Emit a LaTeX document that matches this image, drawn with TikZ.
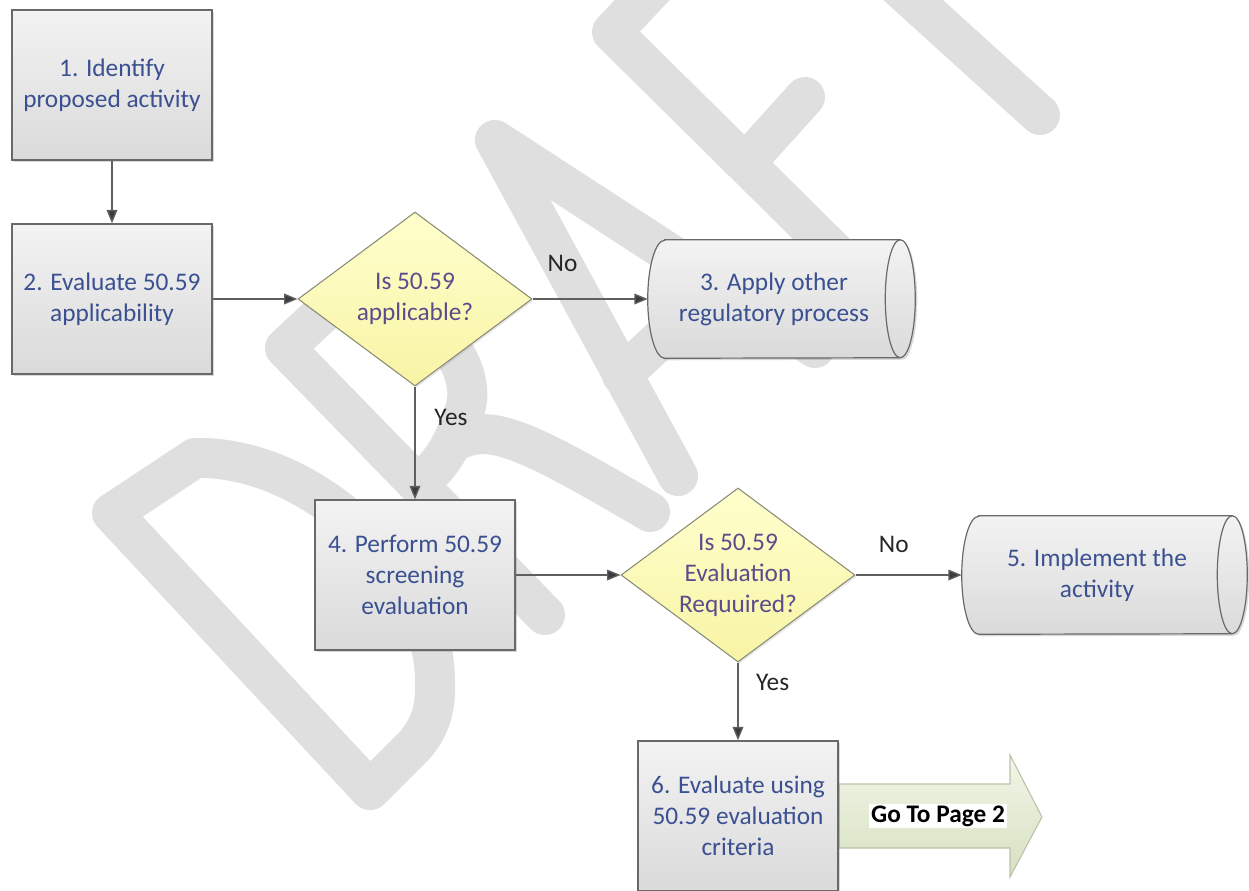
\documentclass[tikz,border=0pt]{standalone}
\usepackage{fontspec}
\setmainfont{Carlito}
\usetikzlibrary{shapes.geometric,arrows.meta,shadows,calc,backgrounds}
\pgfdeclarelayer{wm}
\pgfdeclarelayer{background}
\pgfsetlayers{wm,background,main}
\definecolor{wmgray}{RGB}{223,223,223}
\definecolor{boxtext}{RGB}{59,80,145}
\definecolor{dtext}{RGB}{92,76,140}
\definecolor{boxline}{RGB}{105,105,105}
\definecolor{dline}{RGB}{140,140,118}
\definecolor{arrline}{RGB}{95,95,95}
\definecolor{arrhead}{RGB}{60,60,60}
\definecolor{boxtop}{RGB}{243,243,243}
\definecolor{boxbot}{RGB}{218,218,218}
\definecolor{dtop}{RGB}{255,255,205}
\definecolor{dbot}{RGB}{248,244,165}
\definecolor{gtop}{RGB}{242,246,232}
\definecolor{gbot}{RGB}{214,224,192}
\definecolor{gline}{RGB}{185,195,170}
\newcommand\cylshape[1]{%
  \path[cylfill] ([xshift=12.75pt]#1.north west) -- (#1.north east)
    arc[start angle=90,end angle=-90,x radius=11.25pt,y radius=44.25pt]
    -- ([xshift=12.75pt]#1.south west)
    arc[start angle=270,end angle=90,x radius=12.75pt,y radius=44.25pt] -- cycle;
  \draw[cylline] (#1.north east)
    arc[start angle=90,end angle=270,x radius=11.25pt,y radius=44.25pt];}
\begin{document}
\begin{tikzpicture}[x=0.75pt,y=-0.75pt,
  every node/.style={font=\fontsize{19pt}{23.25pt}\selectfont},
  procbox/.style={rectangle, draw=boxline, line width=1.1pt, top color=boxtop, bottom color=boxbot,
    minimum width=150pt, minimum height=112.5pt, align=center, text=boxtext, inner sep=0pt,
    drop shadow={shadow xshift=1.5pt,shadow yshift=-1.5pt,opacity=0.3}},
  decision/.style={diamond, draw=dline, line width=0.8pt, top color=dtop, bottom color=dbot,
    minimum width=175.5pt, minimum height=130.5pt, inner sep=-20pt, align=center, text=dtext,
    drop shadow={shadow xshift=1.2pt,shadow yshift=-1.2pt,opacity=0.2}},
  cylnode/.style={rectangle, draw=none, minimum height=88.5pt, align=center, text=boxtext, inner sep=0pt},
  cylfill/.style={draw=boxline, line width=0.9pt, top color=boxtop, bottom color=boxbot,
    drop shadow={shadow xshift=1.5pt,shadow yshift=-1.5pt,opacity=0.3}},
  cylline/.style={draw=boxline, line width=0.9pt},
  conn/.style={draw=arrline, line width=1pt, -{Triangle[length=10pt,width=8pt,fill=arrhead]}},
  lbl/.style={text=black!85, inner sep=0pt},
  wmline/.style={color=wmgray, line width=30pt, line cap=round, line join=round}
]
\useasboundingbox (0,0) rectangle (1249,890);

% watermark
\begin{pgfonlayer}{wm}
\begin{scope}
\clip (0,0) rectangle (1249,890);
% D
\draw[wmline] (112,513) -- (370,790) -- (415,745) .. controls (432,725) and (436,705) .. (435,680)
  .. controls (434,570) and (310,455) .. (195,458) -- cycle;
% R
\draw[wmline] (545,615) -- (285,348) -- (355,283) .. controls (420,300) and (480,360) .. (465,410)
  .. controls (455,440) and (445,460) .. (425,478);
\draw[wmline] (458,440) .. controls (490,425) and (520,435) .. (650,512);
% A
\draw[wmline] (678,476) -- (495,140) -- (815,348);
\draw[wmline] (622,375) -- (724,280);
% F
\draw[wmline] (680,-40) -- (612,32) -- (870,287);
\draw[wmline] (750,158) -- (805,97);
% T
\draw[wmline] (880,-30) -- (1040,115);
\end{scope}
\end{pgfonlayer}

% nodes
\node[procbox] (b1) at (112,85) {1. Identify\\proposed activity};
\node[procbox] (b2) at (112,299) {2. Evaluate 50.59\\applicability};
\node[decision] (d1) at (415,299) {Is 50.59\\applicable?};
\node[cylnode, minimum width=189pt] (b3) at (774,299) {3. Apply other\\regulatory process};
\node[procbox] (b4) at (415,575) {4. Perform 50.59\\screening\\evaluation};
\node[decision] (d2) at (738,575) {Is 50.59\\Evaluation\\Requuired?};
\node[cylnode, minimum width=202.5pt] (b5) at (1097,575) {5. Implement the\\activity};

% go to page 2 arrow (behind box 6)
\coordinate (ga) at (839,784);
\path[draw=gline, line width=0.8pt, top color=gtop, bottom color=gbot]
  (ga) -- ++(171,0) -- ++(0,-29) -- ++(32,62) -- ++(-32,60) -- ++(0,-29) -- ++(-171,0) -- cycle;

\node[procbox] (b6) at (738,816) {6. Evaluate using\\50.59 evaluation\\criteria};
\node[fill=white, inner sep=1.5pt, font=\fontsize{19pt}{23.25pt}\selectfont\bfseries, text=black] (gp) at (938,816) {Go To Page 2};

\begin{pgfonlayer}{background}
\cylshape{b3}
\cylshape{b5}
\end{pgfonlayer}

% connectors
\draw[conn] (b1) -- (b2);
\draw[conn] (b2) -- (d1);
\draw[conn] (d1) -- node[lbl, pos=.26, yshift=27pt] {No} (b3);
\draw[conn] (d1) -- node[lbl, pos=.27, xshift=27pt] {Yes} (b4);
\draw[conn] (b4) -- (d2);
\draw[conn] (d2) -- node[lbl, pos=.36, yshift=23pt] {No} (b5);
\draw[conn] (d2) -- node[lbl, pos=.25, xshift=26pt] {Yes} (b6);
\end{tikzpicture}
\end{document}
